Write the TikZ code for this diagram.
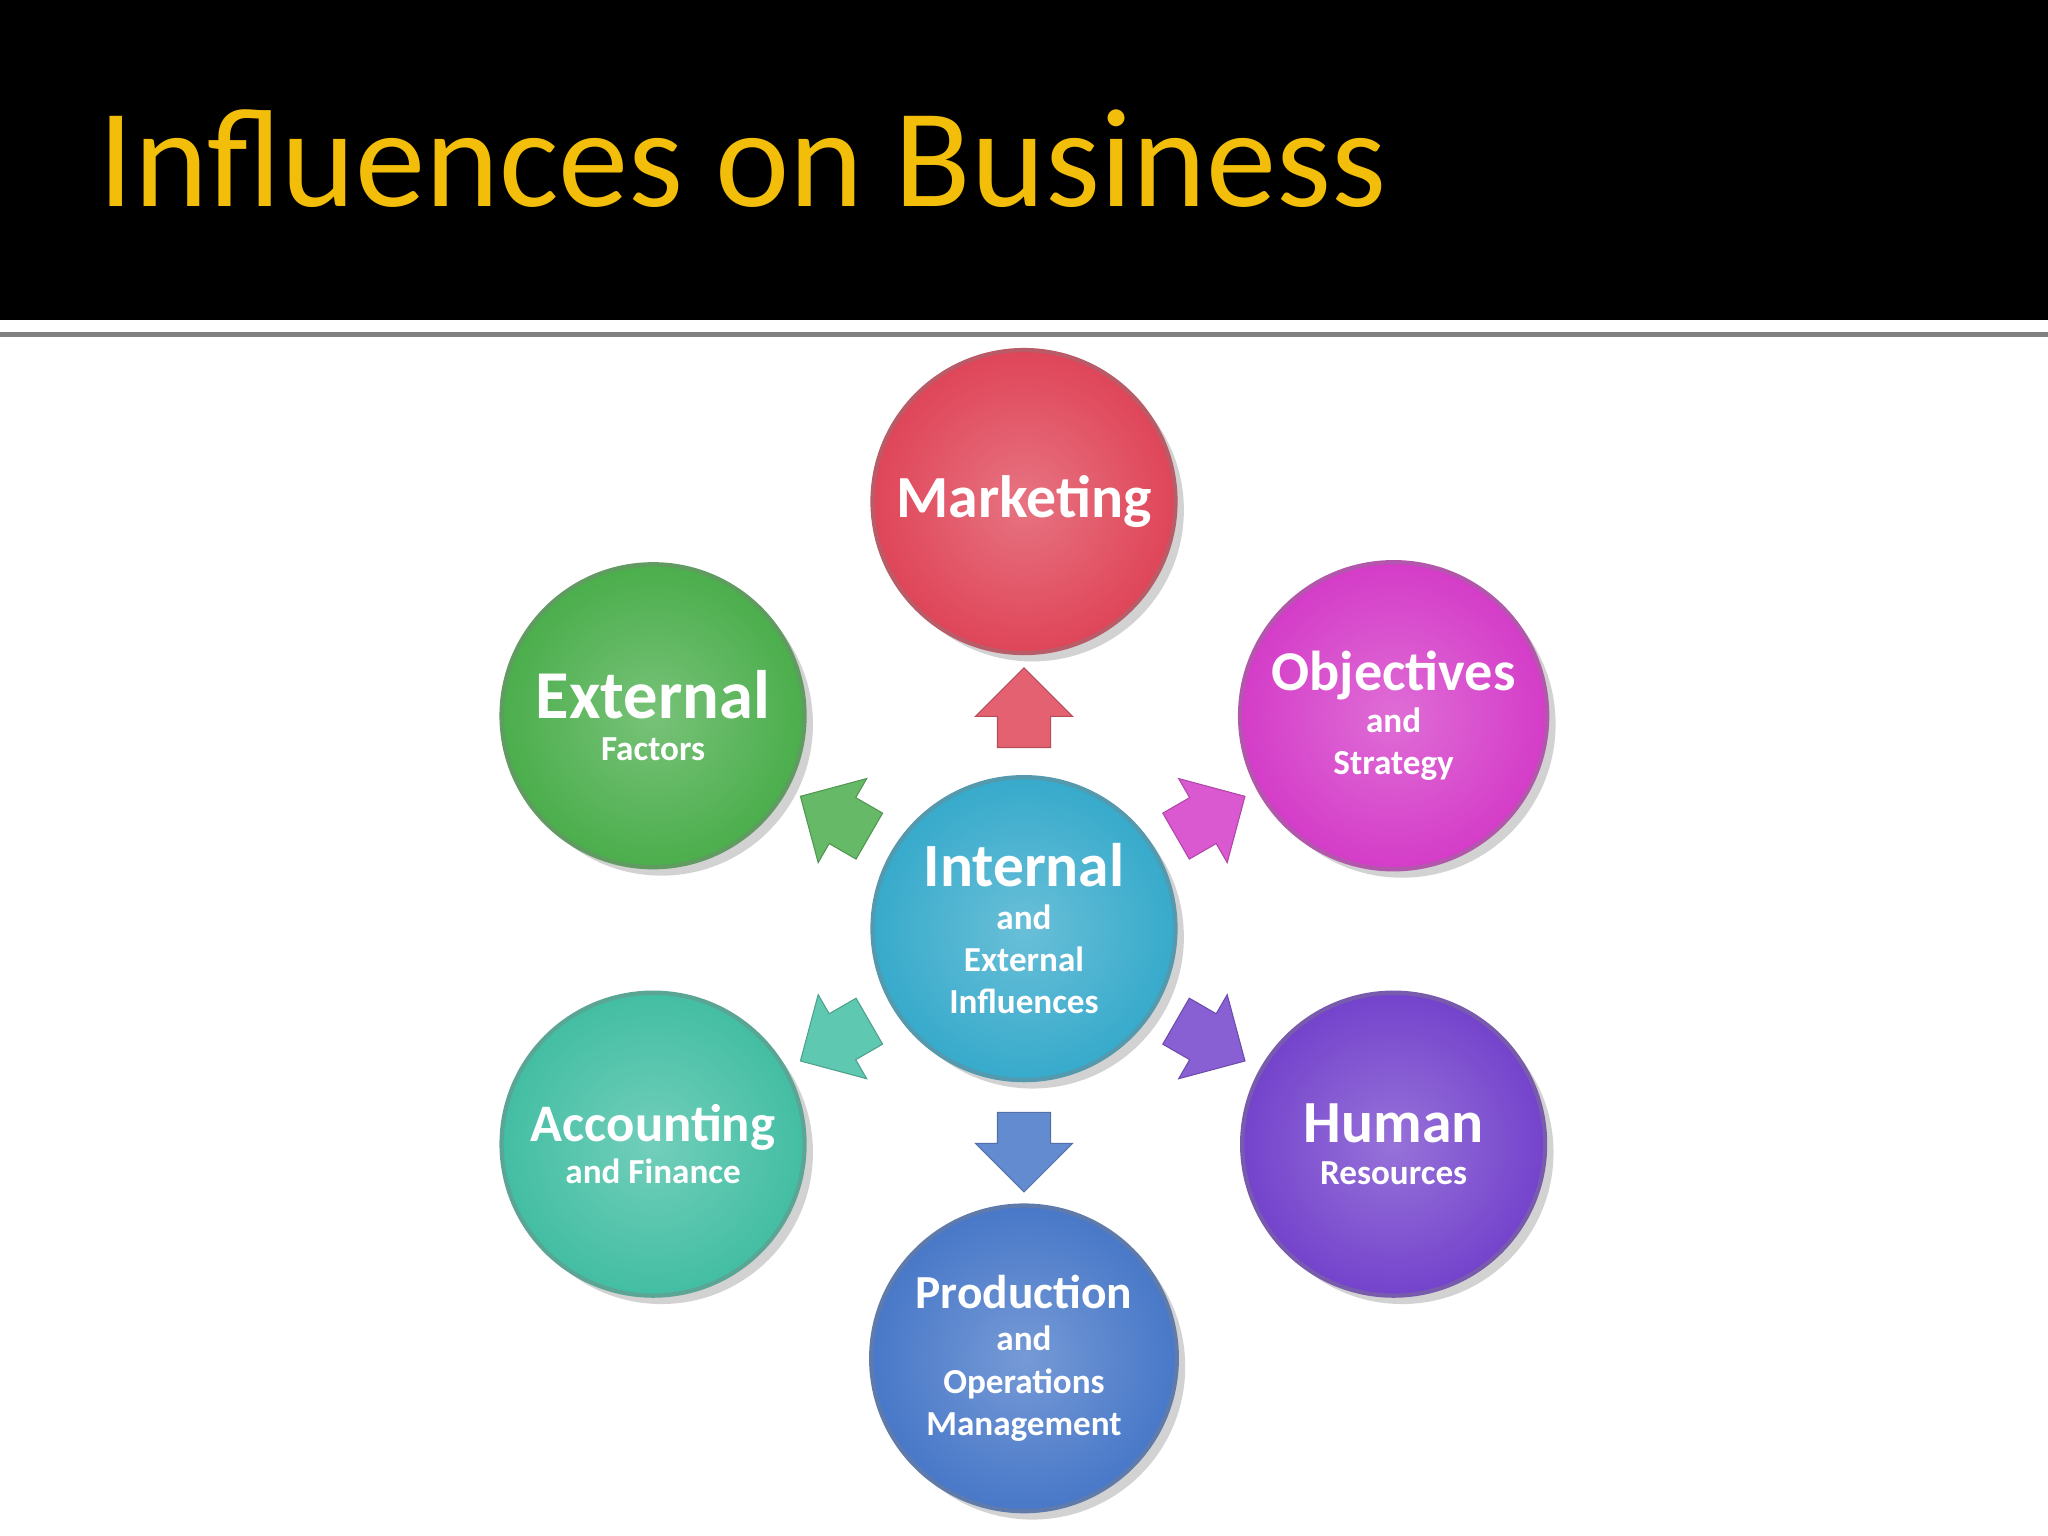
\documentclass[tikz,border=0pt]{standalone}
\usepackage{fontspec}
\setmainfont{Carlito}
\usetikzlibrary{shapes.arrows,shadows}
\definecolor{gold}{HTML}{F2BE0A}
\definecolor{cred}{HTML}{DF4558}
\definecolor{cgreen}{HTML}{4BAE4C}
\definecolor{cmag}{HTML}{D43CC8}
\definecolor{ccyan}{HTML}{37AACB}
\definecolor{cteal}{HTML}{43BEA3}
\definecolor{cpurp}{HTML}{7443CC}
\definecolor{cblue}{HTML}{4878C8}
\tikzset{
 ball/.style={circle, minimum size=3.03cm, draw=#1!60!gray, line width=1.2pt,
   inner color=#1!75!white, outer color=#1, drop shadow={opacity=0.35},
   text=white, align=center, font=\bfseries},
 arr/.style={single arrow, fill=#1, draw=#1!80!black, line width=0.3pt,
   minimum height=0.7cm, single arrow head extend=0.22cm, inner sep=0.26cm,
   shape border rotate=0}
}
\begin{document}
\begin{tikzpicture}[x=0.01306cm,y=-0.01306cm]
\useasboundingbox (0,0) rectangle (1568,1176);
\fill[white] (0,0) rectangle (1568,1176);
\fill[black] (0,0) rectangle (1568,245);
\draw[gray,line width=1.5pt] (0,256) -- (1568,256);
\node[anchor=base west, text=gold, font=\fontsize{40}{44}\selectfont, inner sep=0] (title) at (75,158) {Influences on Business};

\node[ball=cred] (mk) at (784,384) {\fontsize{17}{20}\selectfont Marketing};
\node[ball=cgreen] (ef) at (500,548) {\fontsize{19.5}{23}\selectfont External\\Factors};
\node[ball=cmag] (os) at (1067,548) {\fontsize{16}{19}\selectfont Objectives\\and\\Strategy};
\node[ball=ccyan] (ie) at (784,711) {\fontsize{17.5}{20}\selectfont Internal\\and\\External\\Influences};
\node[ball=cteal] (af) at (500,876) {\fontsize{15}{17}\selectfont Accounting\\and Finance};
\node[ball=cpurp] (hr) at (1067,876) {\fontsize{17}{20}\selectfont Human\\Resources};
\node[ball=cblue] (pm) at (784,1040) {\fontsize{13.5}{16}\selectfont Production\\and\\Operations\\Management};

\node[arr=cred!85!white, rotate=90] (a1) at (784,552) {};
\node[arr=cblue!85!white, rotate=-90] (a2) at (784,872) {};
\node[arr=cgreen!85!white, rotate=150] (a3) at (648,630) {};
\node[arr=cmag!85!white, rotate=30] (a4) at (918,630) {};
\node[arr=cteal!85!white, rotate=210] (a5) at (648,792) {};
\node[arr=cpurp!85!white, rotate=-30] (a6) at (918,792) {};
\end{tikzpicture}
\end{document}
